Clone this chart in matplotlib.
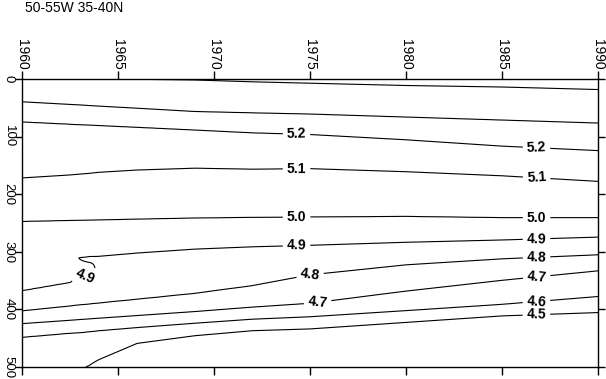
import numpy as np
import matplotlib
matplotlib.use('Agg')
import matplotlib.pyplot as plt

plt.rcParams['font.family'] = ['Liberation Sans', 'DejaVu Sans']

# 年份列 (x) 和 等值线数值
years = [1960, 1962.5, 1963.5, 1964, 1966, 1969, 1972, 1975, 1980, 1985, 1990]
levels = [4.5, 4.6, 4.7, 4.8, 4.9, 5.0, 5.1, 5.2, 5.3, 5.4]

# 每条等值线在各年份的深度 (m)
# (5.4 线在 1965.5 年前位于海面以上, 4.5 线在 1963.3 年前位于 500 m 以下)
d45 = [560.0, 515.0, 497.4, 487.3, 459.0, 445.7, 437.0, 433.9, 422.6, 411.3, 405.5]
d46 = [448.3, 441.3, 438.6, 437.0, 431.5, 424.0, 417.0, 412.8, 402.2, 391.3, 377.7]
d47 = [424.7, 418.9, 416.5, 415.3, 410.7, 403.8, 396.1, 389.5, 368.3, 349.5, 333.0]
d48 = [402.6, 394.1, 390.8, 389.0, 382.4, 372.2, 358.8, 340.0, 322.6, 312.2, 305.2]
d49 = [367.8, 353.5, 308.8, 307.8, 302.1, 295.3, 291.3, 288.7, 283.5, 279.5, 274.5]
d50 = [247.3, 245.5, 245.0, 244.7, 243.3, 241.4, 240.3, 239.6, 238.6, 240.8, 240.8]
d51 = [171.8, 166.6, 163.8, 162.0, 158.0, 154.8, 156.5, 155.6, 160.9, 168.0, 177.7]
d52 = [74.4, 78.4, 80.0, 80.7, 83.8, 88.5, 93.4, 96.3, 105.5, 116.5, 124.3]
d53 = [39.6, 44.2, 46.1, 47.1, 50.8, 56.5, 58.8, 60.9, 66.1, 71.3, 76.5]
d54 = [-10.0, -6.0, -3.5, -1.5, 0.5, 1.7, 4.9, 7.3, 11.3, 13.9, 18.3]

# 1963.5 年 4.9 线的折叠部分
fold_year = 1963.5
fold_depth = [310.5, 318.3, 329.0, 340.8]
fold_value = [4.85, 4.9, 4.94, 4.9]

iso = np.array([d45, d46, d47, d48, d49, d50, d51, d52, d53, d54])

# 网格: 折叠附近只用读出的年份列, 其它地方细分
xg = np.concatenate([np.arange(1960, 1962.5, 0.25), [1962.5, 1963.5],
                     np.arange(1964, 1990.01, 0.25)])
depth = np.arange(0, 501, 1.0)
Z = np.empty((len(depth), len(xg)))
for j, x in enumerate(xg):
    dj = np.array([np.interp(x, years, row) for row in iso])
    kd = list(dj) + [dj[-1] - (dj[-2] - dj[-1]), dj[0] + (dj[0] - dj[1])]
    kv = list(levels) + [5.5, 4.4]
    if np.isclose(x, fold_year):
        kd += fold_depth
        kv += fold_value
    order = np.argsort(kd)
    Z[:, j] = np.interp(depth, np.array(kd)[order], np.array(kv)[order])

fig = plt.figure(figsize=(6.06, 3.79), dpi=100)
ax = fig.add_axes([22 / 606, 12 / 379, 576 / 606, 288 / 379])

cs = ax.contour(xg, depth, Z, levels=levels, colors='k', linewidths=0.8)

# 标注位置 (年份, 深度)
label_pos = [(1974.3, 94.8), (1986.8, 119.1),
             (1974.3, 155.6), (1986.8, 174.8),
             (1974.3, 239.1), (1986.8, 240.8),
             (1963.3, 345.2), (1974.3, 289.5), (1986.8, 280.9),
             (1975.0, 340.0), (1986.8, 310.4),
             (1975.4, 388.7), (1986.8, 341.7),
             (1986.8, 388.7),
             (1986.8, 414.8)]
plt.rcParams['font.weight'] = 'bold'
ax.clabel(cs, levels=levels[:8], fmt='%.1f', fontsize=10, inline=True,
          inline_spacing=4, manual=label_pos)
plt.rcParams['font.weight'] = 'normal'

ax.set_xlim(1960, 1990)
ax.set_ylim(500, 0)
ax.set_xticks(np.arange(1960, 1991, 5))
ax.set_yticks(np.arange(0, 501, 100))
ax.tick_params(axis='x', top=True, bottom=True, labeltop=True, labelbottom=False,
               direction='out', length=6, width=1, pad=1, labelsize=10,
               labelrotation=-90)
ax.tick_params(axis='y', left=True, right=True, labelleft=True, labelright=False,
               direction='out', length=5, width=1, pad=0.3, labelsize=9.5,
               labelrotation=-90)
for lab in ax.get_yticklabels():
    lab.set_verticalalignment('center')
for sp in ax.spines.values():
    sp.set_linewidth(1.0)

fig.text(25 / 606, 1 - 12 / 379, '50-55W 35-40N', ha='left', va='baseline',
         fontsize=10)

fig.savefig('out.png', dpi=100)
